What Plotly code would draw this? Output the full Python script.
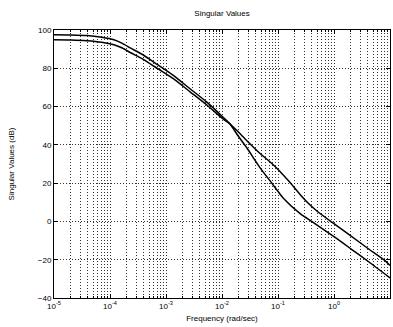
import plotly.graph_objects as go

# Singular value curves: log10 frequency (rad/sec) and magnitude (dB)
logf_sv1 = [-5, -4.7, -4.41, -4.15, -3.93, -3.78, -3.63, -3.42, -3.2, -2.87, -2.57, -2.27,
            -1.98, -1.86, -1.71, -1.56, -1.32, -1.11, -0.9, -0.61, -0.4, 0.0, 0.3, 0.625, 1.0]
db_sv1 = [97.5, 97.4, 97.1, 96.2, 94.9, 93.0, 90.5, 87.2, 82.8, 76.3, 69.3, 62.3,
          54.4, 51.0, 44.6, 38.6, 28.0, 20.0, 12.0, 4.2, 0.0, -8.0, -14.3, -21.2, -29.5]

logf_sv2 = [-5, -4.7, -4.41, -4.15, -3.93, -3.78, -3.63, -3.42, -3.2, -2.87, -2.57, -2.27,
            -1.98, -1.86, -1.71, -1.56, -1.32, -1.1, -0.96, -0.8, -0.61, -0.45, -0.3, -0.02,
            0.3, 0.6, 0.91, 1.0]
db_sv2 = [94.9, 94.8, 94.4, 93.6, 92.3, 90.6, 88.1, 84.9, 80.8, 74.6, 67.7, 60.8,
          53.5, 51.0, 46.8, 42.3, 35.5, 30.0, 26.0, 20.8, 14.2, 9.2, 5.3, -0.8,
          -7.5, -14.0, -20.5, -23.0]

x_tick_exps = [-5, -4, -3, -2, -1, 0, 1]
y_ticks = [-40, -20, 0, 20, 40, 60, 80, 100]

font = dict(family="Liberation Sans, Arial, sans-serif", size=8, color="black")
grid_style = dict(showgrid=True, gridcolor="#333333", griddash="1px,2px", gridwidth=0.7)

fig = go.Figure()
for lf, db in [(logf_sv1, db_sv1), (logf_sv2, db_sv2)]:
    fig.add_trace(go.Scatter(
        x=[10 ** v for v in lf], y=db, mode="lines",
        line=dict(color="black", width=1.5, shape="spline", smoothing=0.6),
        showlegend=False, hoverinfo="skip",
    ))

fig.update_layout(
    width=393, height=327,
    margin=dict(l=54, r=3, t=30, b=29),
    paper_bgcolor="white", plot_bgcolor="white",
    font=font,
    title=dict(text="Singular Values", x=0.565, xanchor="center", y=0.96, yanchor="middle",
               font=dict(size=8)),
)

fig.update_xaxes(
    type="log", range=[-5, 1],
    tickvals=[10 ** e for e in x_tick_exps],
    ticktext=[f"10<sup>{e}</sup>" for e in x_tick_exps],
    ticks="inside", ticklen=4, tickcolor="black",
    showline=True, linecolor="black", linewidth=1, mirror="ticks",
    minor=dict(ticks="inside", ticklen=2, tickcolor="black", dtick="D1", **grid_style),
    title=dict(text="Frequency (rad/sec)", standoff=5, font=dict(size=8)),
    tickfont=dict(size=8), zeroline=False,
    **grid_style,
)
fig.update_yaxes(
    range=[-40, 100], tickvals=y_ticks,
    ticks="inside", ticklen=4, tickcolor="black",
    showline=True, linecolor="black", linewidth=1, mirror="ticks",
    title=dict(text="Singular Values (dB)", standoff=22, font=dict(size=8)),
    tickfont=dict(size=8), zeroline=False,
    **grid_style,
)

fig.write_html("out.html")
